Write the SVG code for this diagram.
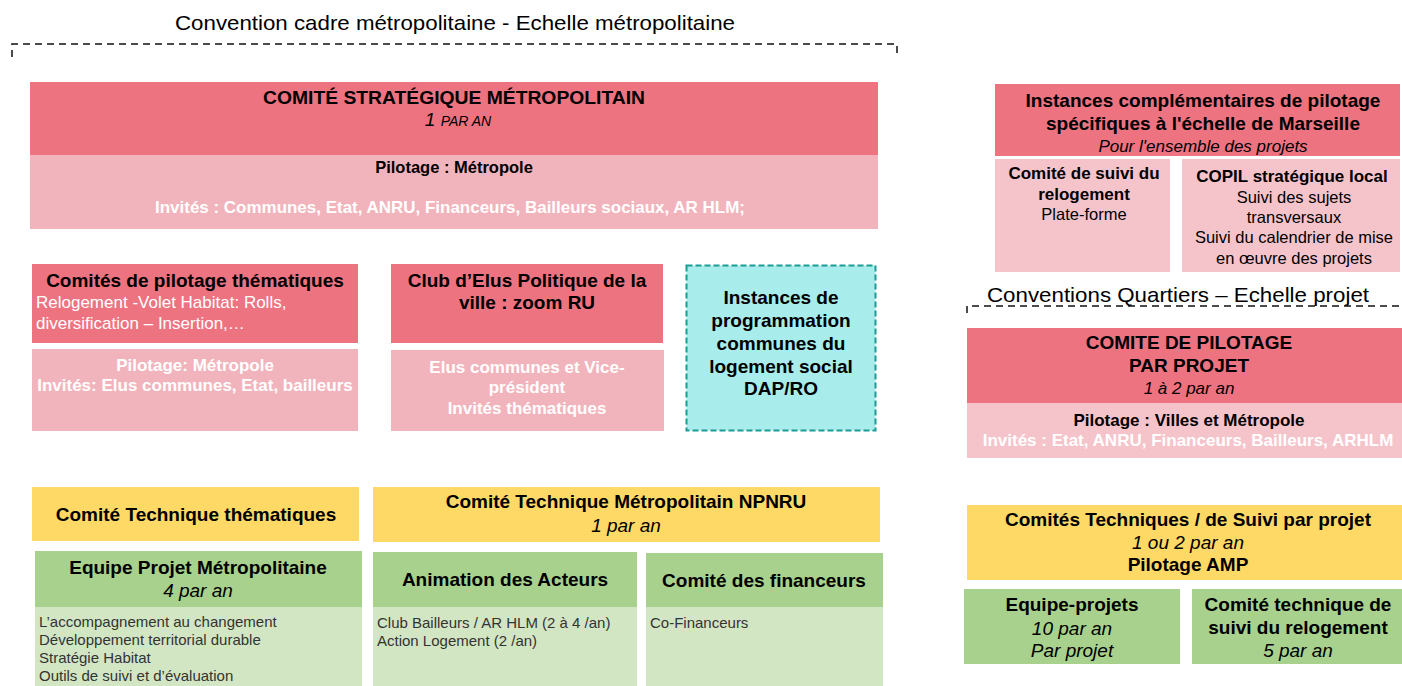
<svg xmlns="http://www.w3.org/2000/svg" width="1402" height="686" viewBox="0 0 1402 686">
<style>
text{font-family:"Liberation Sans",Arial,sans-serif;fill:#000}
.c{text-anchor:middle}
.b{font-weight:bold}
.i{font-style:italic}
.w{fill:#fff}
.g{fill:#333}
.t19{font-size:19px}
.t17{font-size:17px}
.t16{font-size:16.5px}
.t15{font-size:15px}
.hp{fill:#EE7381}
.lp{fill:#F2B4BC}
.lp2{fill:#F5C4CB}
.y{fill:#FFD966}
.gr{fill:#A9D18E}
.lg{fill:#D3E6C4}
.dash{fill:none;stroke:#111;stroke-width:1.5;stroke-dasharray:7 5}
</style>
<rect width="1402" height="686" fill="#fff"/>

<g id="scope-metro">
<text x="455" y="30" class="c" font-size="21" textLength="560" lengthAdjust="spacingAndGlyphs">Convention cadre métropolitaine - Echelle métropolitaine</text>
<path class="dash" d="M12 57V44H897V57"/>
</g>

<g id="comite-strategique">
<rect class="hp" x="30" y="82" width="848" height="73"/>
<rect class="lp" x="30" y="155" width="848" height="74"/>
<text x="454" y="104" class="c b" font-size="18" textLength="382" lengthAdjust="spacingAndGlyphs">COMITÉ STRATÉGIQUE MÉTROPOLITAIN</text>
<text x="458" y="126" class="c i"><tspan font-size="19">1 </tspan><tspan font-size="14">PAR AN</tspan></text>
<text x="454" y="173" class="c b t16">Pilotage  : Métropole</text>
<text x="450" y="213" class="c b w" font-size="16.5" textLength="590" lengthAdjust="spacingAndGlyphs">Invités  : Communes,  Etat, ANRU, Financeurs,  Bailleurs  sociaux, AR HLM;</text>
</g>

<g id="copil-thematiques">
<rect class="hp" x="32" y="264" width="326" height="79"/>
<rect class="lp" x="32" y="349" width="326" height="82"/>
<text x="195" y="287" class="c b t19">Comités de pilotage thématiques</text>
<text x="36" y="308" class="t17 w">Relogement  -Volet Habitat:  Rolls,</text>
<text x="36" y="329" class="t17 w">diversification – Insertion,…</text>
<text x="195" y="371" class="c b t17 w">Pilotage: Métropole</text>
<text x="195" y="391" class="c b t17 w">Invités: Elus communes,  Etat, bailleurs</text>
</g>

<g id="club-elus">
<rect class="hp" x="391" y="264" width="272" height="79"/>
<rect class="lp" x="391" y="350" width="273" height="81"/>
<text x="527" y="287" class="c b t19">Club d’Elus Politique de la</text>
<text x="527" y="309" class="c b t19">ville : zoom RU</text>
<text x="527" y="373" class="c b t17 w">Elus  communes  et Vice-</text>
<text x="527" y="393" class="c b t17 w">président</text>
<text x="527" y="414" class="c b t17 w">Invités  thématiques</text>
</g>

<g id="instances-programmation">
<rect x="686.5" y="265.5" width="189" height="165" fill="#A8ECEB" stroke="#1A9C94" stroke-width="2" stroke-dasharray="6 3"/>
<text x="781" y="304" class="c b t19">Instances de</text>
<text x="781" y="327" class="c b t19">programmation</text>
<text x="781" y="350" class="c b t19">communes du</text>
<text x="781" y="373" class="c b t19">logement social</text>
<text x="781" y="395" class="c b t19">DAP/RO</text>
</g>

<g id="cotech-thematiques">
<rect class="y" x="32" y="487" width="327" height="54"/>
<text x="196" y="521" class="c b t19">Comité Technique thématiques</text>
</g>

<g id="cotech-npnru">
<rect class="y" x="373" y="487" width="507" height="55"/>
<text x="626" y="508" class="c b t19">Comité Technique Métropolitain NPNRU</text>
<text x="626" y="532" class="c i t19">1 par an</text>
</g>

<g id="equipe-projet-metro">
<rect class="gr" x="35" y="551" width="327" height="56"/>
<rect class="lg" x="35" y="607" width="327" height="79"/>
<text x="198" y="574" class="c b t19">Equipe Projet Métropolitaine</text>
<text x="198" y="597" class="c i t19">4 par an</text>
<text x="39" y="627" class="t15 g">L’accompagnement au changement</text>
<text x="39" y="645" class="t15 g">Développement territorial durable</text>
<text x="39" y="663" class="t15 g">Stratégie Habitat</text>
<text x="39" y="681" class="t15 g">Outils de suivi et d’évaluation</text>
</g>

<g id="animation-acteurs">
<rect class="gr" x="373" y="552" width="264" height="55"/>
<rect class="lg" x="373" y="607" width="264" height="79"/>
<text x="505" y="586" class="c b t19">Animation des Acteurs</text>
<text x="377" y="628" class="t15 g">Club Bailleurs / AR HLM  (2 à 4 /an)</text>
<text x="377" y="646" class="t15 g">Action Logement (2 /an)</text>
</g>

<g id="comite-financeurs">
<rect class="gr" x="646" y="553" width="237" height="54"/>
<rect class="lg" x="646" y="607" width="237" height="79"/>
<text x="764" y="587" class="c b t19">Comité des financeurs</text>
<text x="650" y="628" class="t15 g">Co-Financeurs</text>
</g>

<g id="instances-complementaires">
<rect class="hp" x="995" y="84" width="405" height="72"/>
<text x="1203" y="107" class="c b t19">Instances complémentaires de pilotage</text>
<text x="1203" y="130" class="c b t19">spécifiques à l'échelle de Marseille</text>
<text x="1203" y="152" class="c i t17">Pour l'ensemble des projets</text>
</g>

<g id="comite-suivi-relogement">
<rect class="lp2" x="995" y="159" width="175" height="113"/>
<text x="1084" y="179" class="c b t17">Comité de suivi du</text>
<text x="1084" y="200" class="c b t17">relogement</text>
<text x="1084" y="220" class="c t16">Plate-forme</text>
</g>

<g id="copil-local">
<rect class="lp2" x="1182" y="159" width="218" height="113"/>
<text x="1292" y="182" class="c b t17">COPIL stratégique local</text>
<text x="1294" y="203" class="c t16">Suivi des sujets</text>
<text x="1294" y="223" class="c t16">transversaux</text>
<text x="1294" y="243" class="c t16">Suivi  du calendrier de mise</text>
<text x="1294" y="264" class="c t16">en œuvre des projets</text>
</g>

<g id="scope-projet">
<text x="1178" y="302" class="c" font-size="21" textLength="382" lengthAdjust="spacingAndGlyphs">Conventions Quartiers – Echelle projet</text>
<path class="dash" d="M967 313V306H1402"/>
</g>

<g id="copil-projet">
<rect class="hp" x="967" y="328" width="435" height="75"/>
<rect class="lp2" x="967" y="403" width="435" height="55"/>
<text x="1189" y="349" class="c b t19">COMITE DE PILOTAGE</text>
<text x="1189" y="372" class="c b t19">PAR PROJET</text>
<text x="1189" y="394" class="c i t17">1 à 2 par an</text>
<text x="1189" y="426" class="c b t17">Pilotage  : Villes  et Métropole</text>
<text x="1188" y="446" class="c b t17 w">Invités  : Etat, ANRU, Financeurs,  Bailleurs,  ARHLM</text>
</g>

<g id="cotech-projet">
<rect class="y" x="967" y="505" width="435" height="75"/>
<text x="1188" y="526" class="c b t19">Comités Techniques / de Suivi par projet</text>
<text x="1188" y="549" class="c i t19">1 ou 2 par an</text>
<text x="1188" y="571" class="c b t19">Pilotage AMP</text>
</g>

<g id="equipe-projets">
<rect class="gr" x="964" y="589" width="216" height="75"/>
<text x="1072" y="611" class="c b t19">Equipe-projets</text>
<text x="1072" y="635" class="c i t19">10 par an</text>
<text x="1072" y="657" class="c i t19">Par projet</text>
</g>

<g id="cotech-relogement">
<rect class="gr" x="1192" y="589" width="210" height="75"/>
<text x="1298" y="611" class="c b t19">Comité technique de</text>
<text x="1298" y="634" class="c b t19">suivi du relogement</text>
<text x="1298" y="657" class="c i t19">5 par an</text>
</g>

<g id="connectors"></g>
</svg>
